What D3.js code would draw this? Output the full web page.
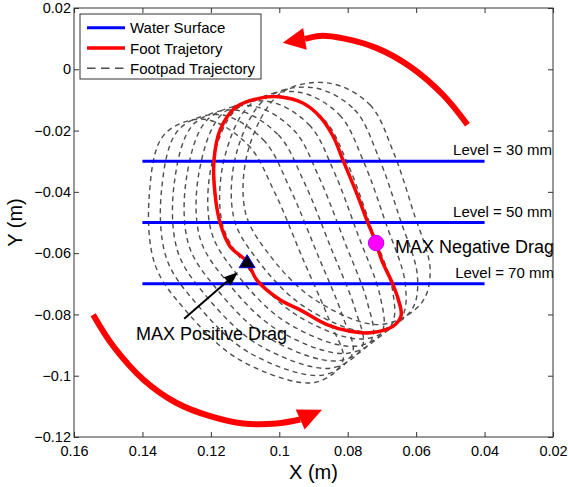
<!DOCTYPE html>
<html>
<head>
<meta charset="utf-8">
<script src="https://cdn.jsdelivr.net/npm/d3@7"></script>
<style>
body { margin: 0; background: #fff; }
text { font-family: "Liberation Sans", Arial, sans-serif; fill: #000; }
</style>
</head>
<body>
<script>
// ---- data (metres) ----
var xTicks = [0.16, 0.14, 0.12, 0.1, 0.08, 0.06, 0.04, 0.02];
var yTicks = [0.02, 0, -0.02, -0.04, -0.06, -0.08, -0.1, -0.12];

// water surface levels
var waterLevels = [-0.03, -0.05, -0.07];
var levelNames = ["Level = 30 mm", "Level = 50 mm", "Level = 70 mm"];
var levelLabelX = [0.0492, 0.0492, 0.0486];
var waterSpan = [0.14, 0.04];

// foot trajectory, clockwise from the top of the loop
var footX = [0.1001, 0.0930, 0.0881, 0.0842, 0.0813, 0.0774, 0.0741, 0.0717, 0.0701, 0.0670, 0.0652, 0.0644, 0.0668, 0.0735,
             0.0793, 0.0861, 0.0939, 0.0998, 0.1066, 0.1094, 0.1144, 0.1173, 0.1188, 0.1191, 0.1173, 0.1126, 0.1056];
var footY = [-0.0090, -0.0111, -0.0155, -0.0220, -0.0299, -0.0404, -0.0501, -0.0567, -0.0622, -0.0697, -0.0752, -0.0804, -0.0839, -0.0860,
             -0.0855, -0.0833, -0.0785, -0.0752, -0.0687, -0.0628, -0.0578, -0.0501, -0.0404, -0.0299, -0.0198, -0.0123, -0.0094];

// footpad trajectories (one loop per point along the pad)
var footpadX = [
  [0.0855, 0.0735, 0.0668, 0.0609, 0.0559, 0.0586, 0.0706, 0.0896, 0.1036, 0.1100, 0.1088, 0.0995],
  [0.0901, 0.0780, 0.0711, 0.0649, 0.0596, 0.0615, 0.0730, 0.0924, 0.1066, 0.1133, 0.1125, 0.1038],
  [0.0946, 0.0824, 0.0754, 0.0689, 0.0632, 0.0643, 0.0753, 0.0951, 0.1096, 0.1166, 0.1161, 0.1081],
  [0.0992, 0.0869, 0.0797, 0.0730, 0.0669, 0.0672, 0.0777, 0.0979, 0.1126, 0.1199, 0.1198, 0.1123],
  [0.1037, 0.0913, 0.0840, 0.0770, 0.0705, 0.0700, 0.0801, 0.1006, 0.1156, 0.1232, 0.1234, 0.1166],
  [0.1083, 0.0958, 0.0884, 0.0810, 0.0742, 0.0729, 0.0825, 0.1034, 0.1186, 0.1265, 0.1271, 0.1209],
  [0.1129, 0.1003, 0.0927, 0.0850, 0.0778, 0.0757, 0.0848, 0.1061, 0.1216, 0.1297, 0.1307, 0.1251],
  [0.1174, 0.1047, 0.0970, 0.0890, 0.0815, 0.0786, 0.0872, 0.1089, 0.1246, 0.1330, 0.1344, 0.1294],
  [0.1220, 0.1092, 0.1013, 0.0931, 0.0851, 0.0814, 0.0896, 0.1116, 0.1276, 0.1363, 0.1380, 0.1337]
];
var footpadY = [
  [-0.0045, -0.0116, -0.0266, -0.0462, -0.0657, -0.0765, -0.0833, -0.0752, -0.0595, -0.0462, -0.0253, -0.0077],
  [-0.0060, -0.0132, -0.0283, -0.0482, -0.0678, -0.0788, -0.0857, -0.0777, -0.0619, -0.0484, -0.0273, -0.0094],
  [-0.0074, -0.0149, -0.0300, -0.0501, -0.0699, -0.0811, -0.0880, -0.0801, -0.0642, -0.0506, -0.0293, -0.0111],
  [-0.0089, -0.0165, -0.0317, -0.0521, -0.0721, -0.0834, -0.0904, -0.0826, -0.0666, -0.0528, -0.0313, -0.0128],
  [-0.0104, -0.0181, -0.0334, -0.0540, -0.0742, -0.0857, -0.0927, -0.0850, -0.0689, -0.0550, -0.0333, -0.0145],
  [-0.0119, -0.0198, -0.0352, -0.0560, -0.0763, -0.0881, -0.0951, -0.0875, -0.0713, -0.0572, -0.0353, -0.0163],
  [-0.0133, -0.0214, -0.0369, -0.0580, -0.0784, -0.0904, -0.0975, -0.0899, -0.0737, -0.0594, -0.0372, -0.0180],
  [-0.0148, -0.0230, -0.0386, -0.0599, -0.0805, -0.0927, -0.0998, -0.0924, -0.0760, -0.0616, -0.0392, -0.0197],
  [-0.0163, -0.0246, -0.0403, -0.0619, -0.0827, -0.0950, -0.1022, -0.0948, -0.0784, -0.0638, -0.0412, -0.0214]
];

// drag markers
var maxPositive = [0.1094, -0.0628];
var maxNegative = [0.0717, -0.0567];

// annotations
var posLabel = {text: "MAX Positive Drag", x: 0.1419, y: -0.0882};
var negLabel = {text: "MAX Negative Drag", x: 0.0662, y: -0.0600};
var blackArrowTail = [0.1278, -0.0814];
var blackArrowTip = [0.1121, -0.0662];

// big rotation arrows
var topArrowX = [0.0450, 0.0521, 0.0618, 0.0715, 0.0813, 0.0881, 0.0925];
var topArrowY = [-0.0181, -0.0084, 0.0009, 0.0069, 0.0101, 0.0109, 0.0099];
var topArrowTip = [0.0990, 0.0087];
var bottomArrowX = [0.1544, 0.1485, 0.1397, 0.1300, 0.1202, 0.1105, 0.1008, 0.0939];
var bottomArrowY = [-0.0801, -0.0904, -0.1013, -0.1089, -0.1132, -0.1156, -0.1156, -0.1143];
var bottomArrowTip = [0.0875, -0.1111];

var legendNames = ["Water Surface", "Foot Trajetory", "Footpad Trajectory"];

// ---- layout ----
var width = 568,
    height = 487;
var margin = {top: 8, right: 15, bottom: 50, left: 74};

var svg = d3.select("body").append("svg")
    .attr("width", width)
    .attr("height", height);

var x = d3.scaleLinear()
    .domain([0.16, 0.02])
    .range([margin.left, width - margin.right]);

var y = d3.scaleLinear()
    .domain([-0.12, 0.02])
    .range([height - margin.bottom, margin.top]);

var fmt = d3.format("~g");

function zip(xs, ys) {
    return xs.map(function(v, i) { return [v, ys[i]]; });
}

var line = d3.line()
    .x(function(d) { return x(d[0]); })
    .y(function(d) { return y(d[1]); });

// footpad trajectories
svg.append("g")
    .selectAll("path")
    .data(footpadX.map(function(xs, i) { return zip(xs, footpadY[i]); }))
    .enter().append("path")
    .attr("d", line.curve(d3.curveCatmullRomClosed))
    .attr("fill", "none")
    .attr("stroke", "#4d4d4d")
    .attr("stroke-width", 1.4)
    .attr("stroke-dasharray", "5,4");

// water surface lines
svg.append("g")
    .selectAll("line")
    .data(waterLevels)
    .enter().append("line")
    .attr("x1", x(waterSpan[0]))
    .attr("x2", x(waterSpan[1]))
    .attr("y1", function(d) { return y(d); })
    .attr("y2", function(d) { return y(d); })
    .attr("stroke", "#0000ff")
    .attr("stroke-width", 3);

svg.append("g")
    .selectAll("text")
    .data(waterLevels)
    .enter().append("text")
    .attr("x", function(d, i) { return x(levelLabelX[i]); })
    .attr("y", function(d) { return y(d) - 6; })
    .attr("font-size", "15px")
    .text(function(d, i) { return levelNames[i]; });

// foot trajectory
svg.append("path")
    .datum(zip(footX, footY))
    .attr("d", line.curve(d3.curveCatmullRomClosed))
    .attr("fill", "none")
    .attr("stroke", "#ff0000")
    .attr("stroke-width", 3.5);

// markers
var px = x(maxPositive[0]), py = y(maxPositive[1]);
svg.append("path")
    .attr("d", "M" + px + "," + (py - 7) + "L" + (px - 8) + "," + (py + 6) + "L" + (px + 8) + "," + (py + 6) + "Z")
    .attr("fill", "#000010")
    .attr("stroke", "#0000ff")
    .attr("stroke-width", 1);

svg.append("circle")
    .attr("cx", x(maxNegative[0]))
    .attr("cy", y(maxNegative[1]))
    .attr("r", 7.7)
    .attr("fill", "#ff00ff")
    .attr("stroke", "#b400ff")
    .attr("stroke-width", 1);

// arrow head triangle from base centre to tip
function headPoints(tx, ty, bx, by, halfW) {
    var dx = tx - bx, dy = ty - by,
        len = Math.sqrt(dx * dx + dy * dy),
        nx = -dy / len * halfW, ny = dx / len * halfW;
    return [[tx, ty], [bx + nx, by + ny], [bx - nx, by - ny]];
}

function drawBigArrow(xs, ys, tip) {
    var pts = zip(xs, ys);
    svg.append("path")
        .datum(pts)
        .attr("d", line.curve(d3.curveCatmullRom))
        .attr("fill", "none")
        .attr("stroke", "#ff0000")
        .attr("stroke-width", 6);
    var last = pts[pts.length - 1];
    svg.append("polygon")
        .attr("points", headPoints(x(tip[0]), y(tip[1]), x(last[0]), y(last[1]), 11).join(" "))
        .attr("fill", "#ff0000");
}
drawBigArrow(topArrowX, topArrowY, topArrowTip);
drawBigArrow(bottomArrowX, bottomArrowY, bottomArrowTip);

// black arrow to the positive drag marker
var ax0 = x(blackArrowTail[0]), ay0 = y(blackArrowTail[1]),
    ax1 = x(blackArrowTip[0]), ay1 = y(blackArrowTip[1]);
var alen = Math.sqrt((ax1 - ax0) * (ax1 - ax0) + (ay1 - ay0) * (ay1 - ay0));
var abx = ax1 - (ax1 - ax0) / alen * 14,
    aby = ay1 - (ay1 - ay0) / alen * 14;
svg.append("line")
    .attr("x1", ax0).attr("y1", ay0)
    .attr("x2", abx).attr("y2", aby)
    .attr("stroke", "#000")
    .attr("stroke-width", 2);
svg.append("polygon")
    .attr("points", headPoints(ax1, ay1, abx, aby, 5.5).join(" "))
    .attr("fill", "#000");

svg.selectAll(".annot")
    .data([posLabel, negLabel])
    .enter().append("text")
    .attr("class", "annot")
    .attr("x", function(d) { return x(d.x); })
    .attr("y", function(d) { return y(d.y); })
    .attr("font-size", "18px")
    .text(function(d) { return d.text; });

// ---- axes (MATLAB style box, ticks inside) ----
var x0 = x.range()[0], x1 = x.range()[1], yB = y.range()[0], yT = y.range()[1];

var gx = svg.append("g")
    .attr("transform", "translate(0," + yB + ")")
    .call(d3.axisBottom(x).tickValues(xTicks).tickFormat(fmt).tickSizeInner(-5).tickSizeOuter(0).tickPadding(9));
var gy = svg.append("g")
    .attr("transform", "translate(" + x0 + ",0)")
    .call(d3.axisLeft(y).tickValues(yTicks).tickFormat(fmt).tickSizeInner(-5).tickSizeOuter(0).tickPadding(3));
var gt = svg.append("g")
    .attr("transform", "translate(0," + yT + ")")
    .call(d3.axisTop(x).tickValues(xTicks).tickFormat("").tickSizeInner(-5).tickSizeOuter(0));
var gr = svg.append("g")
    .attr("transform", "translate(" + x1 + ",0)")
    .call(d3.axisRight(y).tickValues(yTicks).tickFormat("").tickSizeInner(-5).tickSizeOuter(0));

[gx, gy, gt, gr].forEach(function(g) {
    g.select(".domain").remove();
    g.selectAll(".tick line").attr("stroke", "#333");
    g.selectAll("text")
        .attr("font-family", "'Liberation Sans', Arial, sans-serif")
        .attr("font-size", "14.5px")
        .attr("fill", "#000");
});

svg.append("rect")
    .attr("x", x0)
    .attr("y", yT)
    .attr("width", x1 - x0)
    .attr("height", yB - yT)
    .attr("fill", "none")
    .attr("stroke", "#333")
    .attr("stroke-width", 1);

svg.append("text")
    .attr("x", (x0 + x1) / 2)
    .attr("y", 479)
    .attr("text-anchor", "middle")
    .attr("font-size", "20px")
    .text("X (m)");

svg.append("text")
    .attr("transform", "translate(22," + ((yT + yB) / 2) + ") rotate(-90)")
    .attr("text-anchor", "middle")
    .attr("font-size", "20px")
    .text("Y (m)");

// ---- legend ----
var legend = svg.append("g").attr("transform", "translate(80,14)");
legend.append("rect")
    .attr("width", 181)
    .attr("height", 65)
    .attr("fill", "#fff")
    .attr("stroke", "#333")
    .attr("stroke-width", 1);

var legendStyles = [
    {stroke: "#0000ff", w: 3, dash: null},
    {stroke: "#ff0000", w: 3.5, dash: null},
    {stroke: "#4d4d4d", w: 1.5, dash: "8.5,5.5"}
];
var rows = legend.selectAll(".row")
    .data(legendNames)
    .enter().append("g")
    .attr("class", "row")
    .attr("transform", function(d, i) { return "translate(0," + (13.7 + i * 20.3) + ")"; });
rows.append("line")
    .attr("x1", 7).attr("x2", 45)
    .attr("stroke", function(d, i) { return legendStyles[i].stroke; })
    .attr("stroke-width", function(d, i) { return legendStyles[i].w; })
    .attr("stroke-dasharray", function(d, i) { return legendStyles[i].dash; });
rows.append("text")
    .attr("x", 50)
    .attr("y", 5.5)
    .attr("font-size", "15px")
    .text(function(d) { return d; });
</script>
</body>
</html>
